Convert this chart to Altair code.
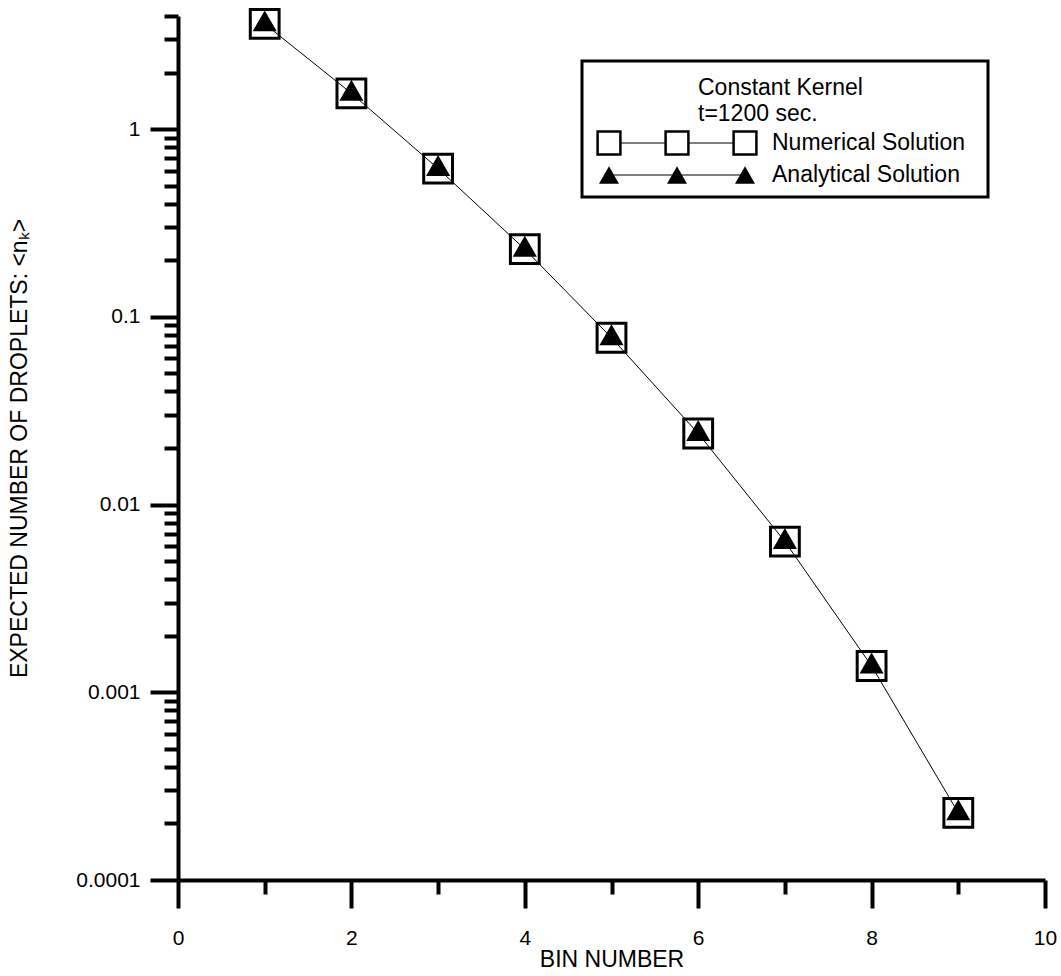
import altair as alt
import pandas as pd

# ---- data ----
bins = [1, 2, 3, 4, 5, 6, 7, 8, 9]
numerical = [3.63, 1.55, 0.616, 0.229, 0.0773, 0.0239, 0.00635, 0.00138, 0.000228]
analytical = [3.63, 1.55, 0.616, 0.229, 0.0773, 0.0239, 0.00635, 0.00138, 0.000228]

x_ticks = [0, 1, 2, 3, 4, 5, 6, 7, 8, 9, 10]
y_ticks = [round(k * 10.0 ** e, 10) for e in (-4, -3, -2, -1) for k in range(1, 10)] + [1, 2, 3, 4]

legend_title_1 = "Constant Kernel"
legend_title_2 = "t=1200 sec."
series_names = ["Numerical Solution", "Analytical Solution"]

FONT = "Liberation Sans"
LEG_FS = 23

df = pd.DataFrame({"bin": bins, "numerical": numerical, "analytical": analytical})

W, H = 867, 864

xscale = alt.Scale(domain=[0, 10], nice=False, zero=False)
yscale = alt.Scale(type="log", domain=[0.0001, 4], nice=False)

x_major = "datum.value % 2 == 0"
y_major = "abs(log(datum.value)/LN10 - round(log(datum.value)/LN10)) < 0.001"

xaxis = alt.Axis(
    values=x_ticks,
    title="BIN NUMBER",
    labelExpr=f"{x_major} ? format(datum.value, 'd') : ''",
    tickSize={"condition": {"test": x_major, "value": 28}, "value": 14},
    labelPadding=19,
    titlePadding=0,
)
yaxis = alt.Axis(
    values=y_ticks,
    title="EXPECTED NUMBER OF DROPLETS: <nₖ>",
    labelExpr=f"{y_major} ? format(datum.value, '~g') : ''",
    tickSize={"condition": {"test": y_major, "value": 28}, "value": 14},
    labelPadding=10,
    titlePadding=44,
)

base = alt.Chart(df)

line = base.mark_line(color="black", strokeWidth=1).encode(
    x=alt.X("bin:Q", scale=xscale, axis=xaxis),
    y=alt.Y("numerical:Q", scale=yscale, axis=yaxis),
)
squares = base.mark_point(shape="square", filled=False, size=830, strokeWidth=3,
                          color="black", opacity=1).encode(
    x=alt.X("bin:Q", scale=xscale),
    y=alt.Y("numerical:Q", scale=yscale),
)
triangles = base.mark_point(shape="triangle-up", filled=True, size=580, color="black",
                            opacity=1, yOffset=-3).encode(
    x=alt.X("bin:Q", scale=xscale),
    y=alt.Y("analytical:Q", scale=yscale),
)

# ---- hand-drawn legend box (pixel space) ----
one = alt.Data(values=[{}])
legend_layers = [
    alt.Chart(one).mark_rect(fill="white", stroke="black", strokeWidth=3).encode(
        x=alt.value(404), x2=alt.value(810), y=alt.value(45), y2=alt.value(181)),
    alt.Chart(one).mark_text(align="left", baseline="middle", fontSize=LEG_FS, font=FONT).encode(
        x=alt.value(520), y=alt.value(72), text=alt.value(legend_title_1)),
    alt.Chart(one).mark_text(align="left", baseline="middle", fontSize=LEG_FS, font=FONT).encode(
        x=alt.value(520), y=alt.value(98), text=alt.value(legend_title_2)),
    alt.Chart(one).mark_rule(color="black", strokeWidth=1).encode(
        x=alt.value(431), x2=alt.value(567), y=alt.value(127)),
    alt.Chart(one).mark_rule(color="black", strokeWidth=1).encode(
        x=alt.value(431), x2=alt.value(567), y=alt.value(159)),
    alt.Chart(one).mark_text(align="left", baseline="middle", fontSize=LEG_FS, font=FONT).encode(
        x=alt.value(594), y=alt.value(127), text=alt.value(series_names[0])),
    alt.Chart(one).mark_text(align="left", baseline="middle", fontSize=LEG_FS, font=FONT).encode(
        x=alt.value(594), y=alt.value(159), text=alt.value(series_names[1])),
]
for px in (431, 499, 567):
    legend_layers.append(
        alt.Chart(one).mark_point(shape="square", filled=True, fill="white", stroke="black",
                                  strokeWidth=2.5, size=520, opacity=1).encode(
            x=alt.value(px), y=alt.value(127)))
    legend_layers.append(
        alt.Chart(one).mark_point(shape="triangle-up", filled=True, color="black",
                                  size=400, opacity=1).encode(
            x=alt.value(px), y=alt.value(159)))

chart = alt.layer(line, squares, triangles, *legend_layers).properties(
    width=W, height=H,
    background="white",
    autosize=alt.AutoSizeParams(type="none"),
    padding={"left": 178, "top": 16, "right": 16, "bottom": 96},
).configure_view(stroke=None).configure_axis(
    grid=False,
    domainColor="black", domainWidth=4,
    tickColor="black", tickWidth=4,
    labelFont=FONT, labelFontSize=21, labelColor="black",
    titleFont=FONT, titleFontSize=23, titleFontWeight="normal", titleColor="black",
    labelFlush=False, labelOverlap=False,
)

chart.save("out.html", embed_options={"renderer": "svg", "actions": False})
